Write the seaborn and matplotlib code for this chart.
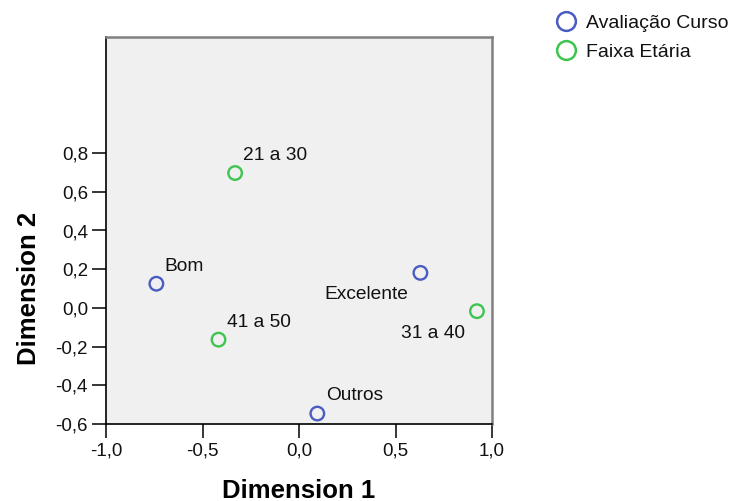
import matplotlib
matplotlib.use("Agg")
import matplotlib.pyplot as plt
from matplotlib.lines import Line2D
import seaborn as sns
import pandas as pd

# ---- data ----
labels = ["Bom", "Excelente", "Outros", "21 a 30", "31 a 40", "41 a 50"]
groups = ["Avaliação Curso", "Avaliação Curso", "Avaliação Curso",
          "Faixa Etária", "Faixa Etária", "Faixa Etária"]
dim1 = [-0.739, 0.629, 0.095, -0.331, 0.922, -0.417]
dim2 = [0.125, 0.181, -0.546, 0.697, -0.017, -0.164]
group_names = ["Avaliação Curso", "Faixa Etária"]
x_ticks = [-1.0, -0.5, 0.0, 0.5, 1.0]
y_ticks = [-0.6, -0.4, -0.2, 0.0, 0.2, 0.4, 0.6, 0.8]

# label placement (style): 'ur' = upper right, 'll' = lower left
placement = {"Bom": "ur", "Excelente": "ll", "Outros": "ur",
             "21 a 30": "ur", "31 a 40": "ll", "41 a 50": "ur"}

colors = {"Avaliação Curso": "#4a5cc0", "Faixa Etária": "#3fc44f"}

df = pd.DataFrame({"label": labels, "group": groups, "dim1": dim1, "dim2": dim2})

sns.set_style("white")
plt.rcParams["font.family"] = ["Liberation Sans", "DejaVu Sans"]

fig = plt.figure(figsize=(7.32, 5.01), dpi=100)
ax = fig.add_axes([106 / 732, 77 / 501, 386 / 732, 387 / 501])
ax.set_facecolor("#f0f0f0")

sns.scatterplot(data=df, x="dim1", y="dim2", hue="group", palette=colors,
                hue_order=group_names, s=95, linewidth=1.7, legend=False, ax=ax)
pts = ax.collections[0]
pts.set_edgecolors(pts.get_facecolors())
pts.set_facecolors("none")

for lab, x, y in zip(labels, dim1, dim2):
    if placement[lab] == "ur":
        ax.annotate(lab, (x, y), xytext=(6, 9.4), textcoords="offset points",
                    ha="left", va="baseline", fontsize=13.8, color="#111111")
    else:
        ax.annotate(lab, (x, y), xytext=(-8.6, -19), textcoords="offset points",
                    ha="right", va="baseline", fontsize=13.8, color="#111111")

ax.set_xlim(-1.0, 1.0)
ax.set_ylim(-0.6, 1.4)
ax.set_xticks(x_ticks)
ax.set_yticks(y_ticks)
fmt = lambda v: f"{v:.1f}".replace(".", ",")
ax.set_xticklabels([fmt(v) for v in x_ticks])
ax.set_yticklabels([fmt(v) for v in y_ticks])
ax.tick_params(axis="both", direction="out", length=10, width=1.1,
               color="black", labelsize=13.5, pad=3, labelcolor="#111111")
ax.tick_params(axis="x", bottom=True)
ax.tick_params(axis="y", left=True)

for side in ["left", "bottom"]:
    ax.spines[side].set_color("black")
    ax.spines[side].set_linewidth(1.2)
for side in ["top", "right"]:
    ax.spines[side].set_color("#808080")
    ax.spines[side].set_linewidth(1.8)
    ax.spines[side].set_visible(True)

ax.set_xlabel("Dimension 1", fontsize=18.5, fontweight="bold", labelpad=14,
              color="black")
ax.set_ylabel("Dimension 2", fontsize=18.5, fontweight="bold", color="black")
ax.yaxis.set_label_coords(-0.168, 0.351)

handles = [Line2D([], [], marker="o", linestyle="none", markersize=13.5,
                  markerfacecolor="none", markeredgecolor=colors[g],
                  markeredgewidth=1.8) for g in group_names]
fig.legend(handles, group_names, loc="upper left",
           bbox_to_anchor=(554 / 732, 1 - 14 / 501), frameon=False,
           fontsize=14, labelspacing=0.62, handletextpad=0.45,
           handlelength=1.2, borderaxespad=0, borderpad=0,
           labelcolor="#111111")

fig.savefig("out.png", dpi=100)
